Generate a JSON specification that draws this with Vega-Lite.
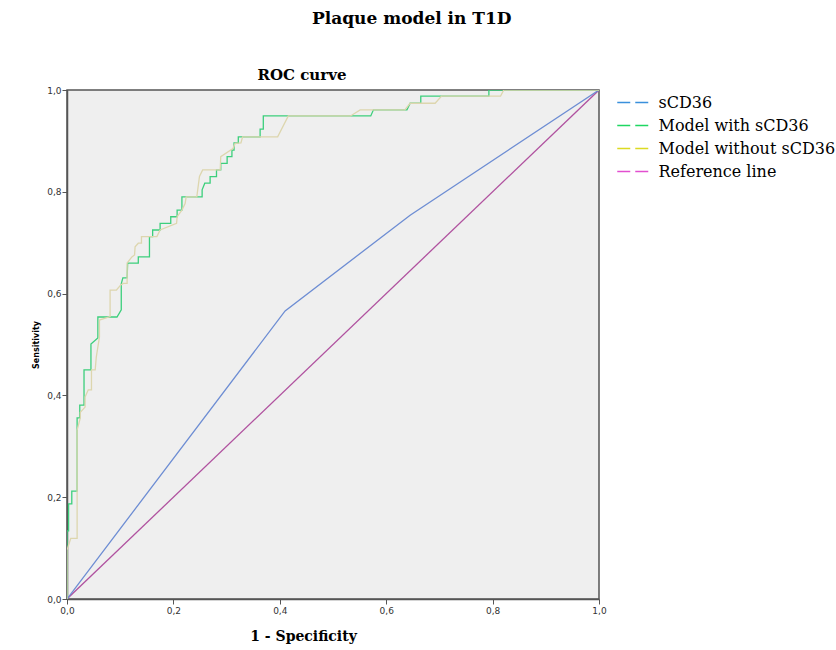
{
  "$schema": "https://vega.github.io/schema/vega-lite/v6.json",
  "background": "white",
  "padding": {"left": 31, "top": 10, "right": 0, "bottom": 5},
  "title": {
    "text": "Plaque model in T1D",
    "font": "DejaVu Serif",
    "fontSize": 17,
    "fontWeight": "bold",
    "color": "#000000",
    "anchor": "start",
    "dx": 280,
    "offset": 39
  },
  "vconcat": [
    {
      "width": 532,
      "height": 509,
      "title": {
        "text": "ROC curve",
        "font": "DejaVu Serif",
        "fontSize": 15,
        "fontWeight": "bold",
        "color": "#000000",
        "anchor": "middle",
        "frame": "group",
        "dx": -31,
        "offset": 3
      },
      "data": {
        "values": [
          {"series": "Reference line", "fpr": 0, "tpr": 0},
          {"series": "Reference line", "fpr": 1, "tpr": 1},
          {"series": "sCD36", "fpr": 0, "tpr": 0},
          {"series": "sCD36", "fpr": 0.41, "tpr": 0.566},
          {"series": "sCD36", "fpr": 0.645, "tpr": 0.754},
          {"series": "sCD36", "fpr": 1, "tpr": 1},
          {"series": "Model with sCD36", "fpr": 0, "tpr": 0},
          {"series": "Model with sCD36", "fpr": 0, "tpr": 0.134},
          {"series": "Model with sCD36", "fpr": 0.003, "tpr": 0.134},
          {"series": "Model with sCD36", "fpr": 0.003, "tpr": 0.187},
          {"series": "Model with sCD36", "fpr": 0.009, "tpr": 0.187},
          {"series": "Model with sCD36", "fpr": 0.009, "tpr": 0.212},
          {"series": "Model with sCD36", "fpr": 0.019, "tpr": 0.212},
          {"series": "Model with sCD36", "fpr": 0.019, "tpr": 0.356},
          {"series": "Model with sCD36", "fpr": 0.024, "tpr": 0.356},
          {"series": "Model with sCD36", "fpr": 0.024, "tpr": 0.381},
          {"series": "Model with sCD36", "fpr": 0.032, "tpr": 0.381},
          {"series": "Model with sCD36", "fpr": 0.032, "tpr": 0.45},
          {"series": "Model with sCD36", "fpr": 0.045, "tpr": 0.45},
          {"series": "Model with sCD36", "fpr": 0.045, "tpr": 0.501},
          {"series": "Model with sCD36", "fpr": 0.058, "tpr": 0.513},
          {"series": "Model with sCD36", "fpr": 0.058, "tpr": 0.554},
          {"series": "Model with sCD36", "fpr": 0.094, "tpr": 0.554},
          {"series": "Model with sCD36", "fpr": 0.102, "tpr": 0.568},
          {"series": "Model with sCD36", "fpr": 0.102, "tpr": 0.619},
          {"series": "Model with sCD36", "fpr": 0.105, "tpr": 0.631},
          {"series": "Model with sCD36", "fpr": 0.113, "tpr": 0.631},
          {"series": "Model with sCD36", "fpr": 0.114, "tpr": 0.66},
          {"series": "Model with sCD36", "fpr": 0.134, "tpr": 0.66},
          {"series": "Model with sCD36", "fpr": 0.134, "tpr": 0.672},
          {"series": "Model with sCD36", "fpr": 0.155, "tpr": 0.672},
          {"series": "Model with sCD36", "fpr": 0.155, "tpr": 0.712},
          {"series": "Model with sCD36", "fpr": 0.161, "tpr": 0.712},
          {"series": "Model with sCD36", "fpr": 0.161, "tpr": 0.725},
          {"series": "Model with sCD36", "fpr": 0.175, "tpr": 0.725},
          {"series": "Model with sCD36", "fpr": 0.175, "tpr": 0.738},
          {"series": "Model with sCD36", "fpr": 0.195, "tpr": 0.738},
          {"series": "Model with sCD36", "fpr": 0.195, "tpr": 0.751},
          {"series": "Model with sCD36", "fpr": 0.207, "tpr": 0.751},
          {"series": "Model with sCD36", "fpr": 0.207, "tpr": 0.764},
          {"series": "Model with sCD36", "fpr": 0.216, "tpr": 0.764},
          {"series": "Model with sCD36", "fpr": 0.216, "tpr": 0.79},
          {"series": "Model with sCD36", "fpr": 0.254, "tpr": 0.79},
          {"series": "Model with sCD36", "fpr": 0.254, "tpr": 0.804},
          {"series": "Model with sCD36", "fpr": 0.259, "tpr": 0.817},
          {"series": "Model with sCD36", "fpr": 0.269, "tpr": 0.817},
          {"series": "Model with sCD36", "fpr": 0.269, "tpr": 0.83},
          {"series": "Model with sCD36", "fpr": 0.281, "tpr": 0.83},
          {"series": "Model with sCD36", "fpr": 0.281, "tpr": 0.843},
          {"series": "Model with sCD36", "fpr": 0.289, "tpr": 0.843},
          {"series": "Model with sCD36", "fpr": 0.289, "tpr": 0.856},
          {"series": "Model with sCD36", "fpr": 0.301, "tpr": 0.856},
          {"series": "Model with sCD36", "fpr": 0.301, "tpr": 0.869},
          {"series": "Model with sCD36", "fpr": 0.31, "tpr": 0.869},
          {"series": "Model with sCD36", "fpr": 0.31, "tpr": 0.882},
          {"series": "Model with sCD36", "fpr": 0.314, "tpr": 0.882},
          {"series": "Model with sCD36", "fpr": 0.314, "tpr": 0.896},
          {"series": "Model with sCD36", "fpr": 0.322, "tpr": 0.896},
          {"series": "Model with sCD36", "fpr": 0.322, "tpr": 0.908},
          {"series": "Model with sCD36", "fpr": 0.363, "tpr": 0.908},
          {"series": "Model with sCD36", "fpr": 0.363, "tpr": 0.923},
          {"series": "Model with sCD36", "fpr": 0.369, "tpr": 0.923},
          {"series": "Model with sCD36", "fpr": 0.369, "tpr": 0.949},
          {"series": "Model with sCD36", "fpr": 0.571, "tpr": 0.949},
          {"series": "Model with sCD36", "fpr": 0.576, "tpr": 0.961},
          {"series": "Model with sCD36", "fpr": 0.639, "tpr": 0.961},
          {"series": "Model with sCD36", "fpr": 0.645, "tpr": 0.974},
          {"series": "Model with sCD36", "fpr": 0.665, "tpr": 0.974},
          {"series": "Model with sCD36", "fpr": 0.665, "tpr": 0.988},
          {"series": "Model with sCD36", "fpr": 0.793, "tpr": 0.988},
          {"series": "Model with sCD36", "fpr": 0.793, "tpr": 1},
          {"series": "Model with sCD36", "fpr": 1, "tpr": 1},
          {"series": "Model without sCD36", "fpr": 0, "tpr": 0},
          {"series": "Model without sCD36", "fpr": 0, "tpr": 0.096},
          {"series": "Model without sCD36", "fpr": 0.007, "tpr": 0.119},
          {"series": "Model without sCD36", "fpr": 0.019, "tpr": 0.119},
          {"series": "Model without sCD36", "fpr": 0.019, "tpr": 0.332},
          {"series": "Model without sCD36", "fpr": 0.025, "tpr": 0.356},
          {"series": "Model without sCD36", "fpr": 0.025, "tpr": 0.367},
          {"series": "Model without sCD36", "fpr": 0.034, "tpr": 0.377},
          {"series": "Model without sCD36", "fpr": 0.034, "tpr": 0.397},
          {"series": "Model without sCD36", "fpr": 0.04, "tpr": 0.411},
          {"series": "Model without sCD36", "fpr": 0.046, "tpr": 0.411},
          {"series": "Model without sCD36", "fpr": 0.046, "tpr": 0.45},
          {"series": "Model without sCD36", "fpr": 0.053, "tpr": 0.45},
          {"series": "Model without sCD36", "fpr": 0.055, "tpr": 0.475},
          {"series": "Model without sCD36", "fpr": 0.061, "tpr": 0.515},
          {"series": "Model without sCD36", "fpr": 0.061, "tpr": 0.548},
          {"series": "Model without sCD36", "fpr": 0.081, "tpr": 0.555},
          {"series": "Model without sCD36", "fpr": 0.081, "tpr": 0.607},
          {"series": "Model without sCD36", "fpr": 0.093, "tpr": 0.607},
          {"series": "Model without sCD36", "fpr": 0.101, "tpr": 0.617},
          {"series": "Model without sCD36", "fpr": 0.106, "tpr": 0.62},
          {"series": "Model without sCD36", "fpr": 0.113, "tpr": 0.62},
          {"series": "Model without sCD36", "fpr": 0.113, "tpr": 0.66},
          {"series": "Model without sCD36", "fpr": 0.122, "tpr": 0.672},
          {"series": "Model without sCD36", "fpr": 0.127, "tpr": 0.676},
          {"series": "Model without sCD36", "fpr": 0.128, "tpr": 0.692},
          {"series": "Model without sCD36", "fpr": 0.134, "tpr": 0.699},
          {"series": "Model without sCD36", "fpr": 0.14, "tpr": 0.699},
          {"series": "Model without sCD36", "fpr": 0.14, "tpr": 0.712},
          {"series": "Model without sCD36", "fpr": 0.169, "tpr": 0.712},
          {"series": "Model without sCD36", "fpr": 0.175, "tpr": 0.725},
          {"series": "Model without sCD36", "fpr": 0.206, "tpr": 0.738},
          {"series": "Model without sCD36", "fpr": 0.207, "tpr": 0.751},
          {"series": "Model without sCD36", "fpr": 0.216, "tpr": 0.764},
          {"series": "Model without sCD36", "fpr": 0.222, "tpr": 0.777},
          {"series": "Model without sCD36", "fpr": 0.224, "tpr": 0.79},
          {"series": "Model without sCD36", "fpr": 0.244, "tpr": 0.79},
          {"series": "Model without sCD36", "fpr": 0.249, "tpr": 0.83},
          {"series": "Model without sCD36", "fpr": 0.255, "tpr": 0.843},
          {"series": "Model without sCD36", "fpr": 0.288, "tpr": 0.843},
          {"series": "Model without sCD36", "fpr": 0.289, "tpr": 0.869},
          {"series": "Model without sCD36", "fpr": 0.312, "tpr": 0.885},
          {"series": "Model without sCD36", "fpr": 0.316, "tpr": 0.895},
          {"series": "Model without sCD36", "fpr": 0.327, "tpr": 0.896},
          {"series": "Model without sCD36", "fpr": 0.33, "tpr": 0.908},
          {"series": "Model without sCD36", "fpr": 0.396, "tpr": 0.908},
          {"series": "Model without sCD36", "fpr": 0.416, "tpr": 0.949},
          {"series": "Model without sCD36", "fpr": 0.533, "tpr": 0.949},
          {"series": "Model without sCD36", "fpr": 0.551, "tpr": 0.961},
          {"series": "Model without sCD36", "fpr": 0.635, "tpr": 0.961},
          {"series": "Model without sCD36", "fpr": 0.645, "tpr": 0.974},
          {"series": "Model without sCD36", "fpr": 0.692, "tpr": 0.974},
          {"series": "Model without sCD36", "fpr": 0.704, "tpr": 0.988},
          {"series": "Model without sCD36", "fpr": 0.815, "tpr": 0.988},
          {"series": "Model without sCD36", "fpr": 0.821, "tpr": 1},
          {"series": "Model without sCD36", "fpr": 1, "tpr": 1}
        ]
      },
      "encoding": {
        "x": {
          "field": "fpr",
          "type": "quantitative",
          "scale": {"domain": [0, 1], "nice": false, "zero": false},
          "axis": {
            "values": [0, 0.2, 0.4, 0.6, 0.8, 1],
            "labelExpr": "replace(format(datum.value, '.1f'), '.', ',')",
            "labelFont": "DejaVu Sans",
            "labelFontSize": 9,
            "labelColor": "#333333",
            "labelPadding": 2,
            "labelFlush": false,
            "tickColor": "#555555",
            "tickSize": 5,
            "domainColor": "#555555",
            "domainWidth": 1.5,
            "grid": false,
            "title": "1 - Specificity",
            "titleFont": "DejaVu Serif",
            "titleFontSize": 14,
            "titleFontWeight": "bold",
            "titleColor": "#000000",
            "titlePadding": 14,
            "titleX": 236
          }
        },
        "y": {
          "field": "tpr",
          "type": "quantitative",
          "scale": {"domain": [0, 1], "nice": false, "zero": false},
          "axis": {
            "values": [0, 0.2, 0.4, 0.6, 0.8, 1],
            "labelExpr": "replace(format(datum.value, '.1f'), '.', ',')",
            "labelFont": "DejaVu Sans",
            "labelFontSize": 9,
            "labelColor": "#333333",
            "labelPadding": 1,
            "labelFlush": false,
            "tickColor": "#555555",
            "tickSize": 5,
            "domainColor": "#555555",
            "domainWidth": 1.5,
            "grid": false,
            "title": "Sensitivity",
            "titleFont": "DejaVu Sans",
            "titleFontSize": 8,
            "titleFontWeight": "bold",
            "titleColor": "#000000",
            "titlePadding": 6
          }
        },
        "order": {"value": null}
      },
      "layer": [
        {
          "mark": {"type": "line", "strokeWidth": 1.3, "clip": true},
          "encoding": {
            "color": {
              "field": "series",
              "type": "nominal",
              "scale": {
                "domain": ["sCD36", "Model with sCD36", "Model without sCD36", "Reference line"],
                "range": ["#6d8dd3", "#3ccf7c", "#ddd6ae", "#b0529f"]
              },
              "legend": null
            }
          }
        },
        {
          "mark": {"type": "line", "strokeWidth": 1.3, "opacity": 0},
          "encoding": {
            "color": {
              "field": "series",
              "type": "nominal",
              "scale": {
                "domain": ["sCD36", "Model with sCD36", "Model without sCD36", "Reference line"],
                "range": ["#3a90dc", "#1fd762", "#dcda22", "#e24fd0"]
              },
              "legend": {
                "title": null,
                "orient": "right",
                "offset": 14,
                "padding": 3,
                "symbolType": "M-1,0H3",
                "symbolSize": 272,
                "symbolDash": [13, 5],
                "symbolStrokeWidth": 1.6,
                "symbolOpacity": 1,
                "labelFont": "DejaVu Serif",
                "labelFontSize": 16,
                "labelColor": "#000000",
                "labelOffset": 23.5,
                "labelLimit": 300,
                "rowPadding": 5
              }
            }
          }
        }
      ],
      "resolve": {"scale": {"color": "independent"}}
    }
  ],
  "config": {
    "view": {"fill": "#efefef", "stroke": "#555555", "strokeWidth": 1.5}
  }
}
